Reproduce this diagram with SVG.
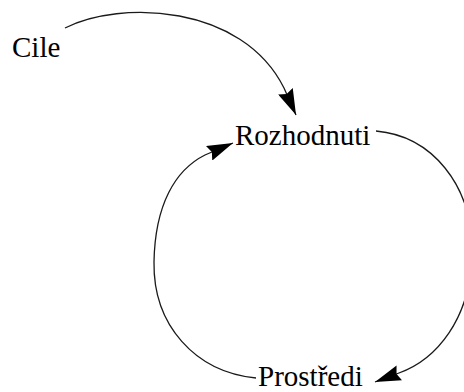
<svg xmlns="http://www.w3.org/2000/svg" width="464" height="392" viewBox="0 0 464 392">
  <style>
    .label { font-family: 'Liberation Serif', 'Times New Roman', serif; font-size: 29px; fill: #000; }
    .link { fill: none; stroke: #1a1a1a; stroke-width: 1.3; }
  </style>
  <defs>
    <marker id="arrow" viewBox="0 0 26 16" refX="26" refY="8" markerWidth="26" markerHeight="16" markerUnits="userSpaceOnUse" orient="auto">
      <path d="M0,0 L26,8 L0,16 L3,8 z" fill="#000"/>
    </marker>
  </defs>
  <rect width="464" height="392" fill="#fff"/>

  <g id="connectors">
    <!-- Cile to Rozhodnuti -->
    <path class="link" d="M65,28 C 120,0 242,4 284,88 L296,115" marker-end="url(#arrow)"/>
    <!-- Rozhodnuti to Prostredi (right loop) -->
    <path class="link" d="M376,131 C 432,136 472,185 472,250 C 472,320 435,360 399,373 L375,382" marker-end="url(#arrow)"/>
    <!-- Prostredi back to Rozhodnuti (left loop) -->
    <path class="link" d="M256,378 C 195,372 153,325 154,262 C 155,205 175,170 205,155 L233,143" marker-end="url(#arrow)"/>
  </g>

  <g id="cile">
    <text class="label" x="12" y="57">Cile</text>
  </g>
  <g id="rozhodnuti">
    <text class="label" x="235" y="145">Rozhodnuti</text>
  </g>
  <g id="prostredi">
    <text class="label" x="258" y="386">Prostředi</text>
  </g>
</svg>
